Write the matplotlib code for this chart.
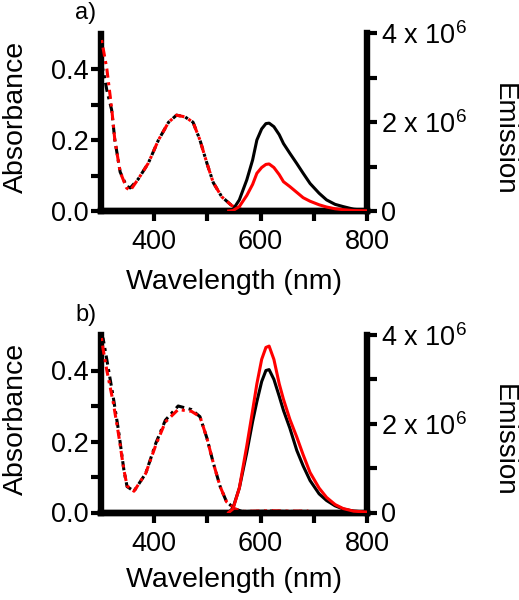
import matplotlib
matplotlib.use("Agg")
import matplotlib.pyplot as plt
from matplotlib.ticker import FixedLocator, FuncFormatter

plt.rcParams['font.family'] = ['Liberation Sans', 'DejaVu Sans']
plt.rcParams['mathtext.fontset'] = 'custom'
plt.rcParams['mathtext.rm'] = 'Liberation Sans'
plt.rcParams['mathtext.default'] = 'regular'

# ---------------- data ----------------
# Absorbance (left axis)
wl_abs_a = [300, 305, 311, 320, 326, 336, 348, 355, 370, 389, 408, 427, 442, 458, 473, 486, 499, 511, 527, 546, 565, 590, 620, 650, 690]
abs_a_black = [0.42, 0.39, 0.34, 0.285, 0.20, 0.11, 0.07, 0.065, 0.09, 0.135, 0.20, 0.25, 0.27, 0.265, 0.25, 0.20, 0.135, 0.08, 0.04, 0.015, 0.004, 0.003, 0.004, 0.003, 0.003]
abs_a_red = [0.49, 0.45, 0.40, 0.29, 0.20, 0.11, 0.065, 0.058, 0.09, 0.135, 0.20, 0.25, 0.27, 0.265, 0.25, 0.20, 0.135, 0.08, 0.04, 0.015, 0.004, 0.003, 0.004, 0.003, 0.003]

wl_abs_b = [300, 304, 311, 323, 333, 343, 349, 362, 384, 403, 421, 445, 470, 486, 499, 511, 524, 536, 552, 565, 590, 620, 650, 690]
abs_b_black = [0.50, 0.49, 0.43, 0.325, 0.23, 0.12, 0.073, 0.06, 0.11, 0.195, 0.26, 0.30, 0.29, 0.27, 0.21, 0.14, 0.073, 0.03, 0.01, 0.003, 0.003, 0.004, 0.003, 0.003]
abs_b_red = [0.50, 0.46, 0.40, 0.31, 0.22, 0.12, 0.075, 0.06, 0.11, 0.19, 0.255, 0.29, 0.285, 0.27, 0.21, 0.14, 0.073, 0.03, 0.01, 0.003, 0.004, 0.005, 0.004, 0.004]

# Emission (right axis), in units of 1e6
wl_em = [540, 548, 560, 574, 585, 593, 602, 610, 616, 625, 635, 643, 655, 668, 680, 693, 710, 724, 740, 755, 775, 800]
em_a_black = [0.0, 0.03, 0.25, 0.70, 1.15, 1.6, 1.85, 1.97, 1.98, 1.9, 1.72, 1.52, 1.30, 1.07, 0.85, 0.62, 0.40, 0.25, 0.15, 0.10, 0.04, 0.01]
em_a_red = [0.0, 0.01, 0.10, 0.35, 0.60, 0.85, 0.98, 1.05, 1.06, 0.98, 0.82, 0.66, 0.55, 0.42, 0.30, 0.22, 0.14, 0.09, 0.05, 0.03, 0.01, 0.005]
em_b_black = [0.0, 0.10, 0.55, 1.35, 2.05, 2.5, 2.95, 3.2, 3.22, 3.0, 2.62, 2.3, 1.9, 1.40, 1.05, 0.72, 0.42, 0.27, 0.15, 0.08, 0.03, 0.01]
em_b_red = [0.0, 0.08, 0.55, 1.5, 2.3, 2.9, 3.45, 3.72, 3.75, 3.45, 2.9, 2.55, 2.1, 1.7, 1.3, 0.9, 0.55, 0.34, 0.18, 0.09, 0.03, 0.01]
em_scale = 1e6

panel_tags = ["a)", "b)"]
panels = [
    (wl_abs_a, abs_a_black, abs_a_red, em_a_black, em_a_red),
    (wl_abs_b, abs_b_black, abs_b_red, em_b_black, em_b_red),
]

W, H = 519, 600
fig = plt.figure(figsize=(W / 100, H / 100), dpi=100)

ax_left_px, ax_right_px = 101, 367
tops = [33.5, 335]
bottoms = [211, 512.5]
xlabel_y = [282, 580]

FS_TICK = 19.5
FS_LAB = 20.5
SP_LW = 4.6
LW = 2.2
dd_black = (0, (3, 1.5, 1, 1.5))
dd_red = (3.5, (3, 1.5, 1, 1.5))

for i, (wl_abs, ab_k, ab_r, em_k, em_r) in enumerate(panels):
    top, bot = tops[i], bottoms[i]
    hpx = bot - top
    ax = fig.add_axes([ax_left_px / W, 1 - bot / H, (ax_right_px - ax_left_px) / W, hpx / H])
    ax2 = ax.twinx()

    ax.plot(wl_abs, ab_k, color='black', lw=LW, linestyle=dd_black, zorder=3)
    ax.plot(wl_abs, ab_r, color='red', lw=LW, linestyle=dd_red, zorder=4)
    ax2.plot(wl_em, [v * em_scale for v in em_k], color='black', lw=LW, zorder=3)
    ax2.plot(wl_em, [v * em_scale for v in em_r], color='red', lw=LW, zorder=4)

    ax.set_xlim(300, 800)
    ax.set_ylim(0, 0.5)
    ax2.set_ylim(0, 4e6)

    for a in (ax, ax2):
        a.spines['top'].set_visible(False)
        for s in ('left', 'right', 'bottom'):
            a.spines[s].set_linewidth(SP_LW)
        a.spines['left'].set_visible(a is ax)
        a.spines['right'].set_visible(a is ax2)

    ax.xaxis.set_major_locator(FixedLocator([400, 600, 800]))
    ax.xaxis.set_minor_locator(FixedLocator([500, 700]))
    ax.yaxis.set_major_locator(FixedLocator([0.0, 0.2, 0.4]))
    ax.yaxis.set_minor_locator(FixedLocator([0.1, 0.3]))
    ax.yaxis.set_major_formatter(FuncFormatter(lambda v, p: f"{v:.1f}"))
    ax2.yaxis.set_major_locator(FixedLocator([0, 2e6, 4e6]))
    ax2.yaxis.set_minor_locator(FixedLocator([1e6, 3e6]))
    ax2.yaxis.set_major_formatter(FuncFormatter(
        lambda v, p: "0" if v == 0 else f"{int(round(v / 1e6))} x 10$^{{6}}$"))

    ax.tick_params(axis='x', which='both', direction='out', length=7.5, width=3.0, labelsize=FS_TICK, pad=5.5)
    ax.tick_params(axis='y', which='both', direction='out', length=7.5, width=3.0, labelsize=FS_TICK, pad=1.5)
    ax2.tick_params(axis='y', which='both', direction='out', length=7.5, width=3.0, labelsize=FS_TICK, pad=2.5)

    ax.set_xlabel("Wavelength (nm)", fontsize=FS_LAB, va='center')
    ax.xaxis.set_label_coords(0.5, (bot - xlabel_y[i]) / hpx)
    ax.set_ylabel("Absorbance", fontsize=FS_LAB, va='center')
    ax.yaxis.set_label_coords((16 - ax_left_px) / (ax_right_px - ax_left_px), (bot - (top + 83.5)) / hpx)
    ax2.set_ylabel("Emission", fontsize=FS_LAB - 0.5, rotation=270, va='center')
    ax2.yaxis.set_label_coords((504 - ax_left_px) / (ax_right_px - ax_left_px), (bot - (top + 105.5)) / hpx)

    fig.text(75 / W, 1 - (top - 20) / H, panel_tags[i], fontsize=17, ha='left', va='center')

fig.savefig("out.png", dpi=100)
